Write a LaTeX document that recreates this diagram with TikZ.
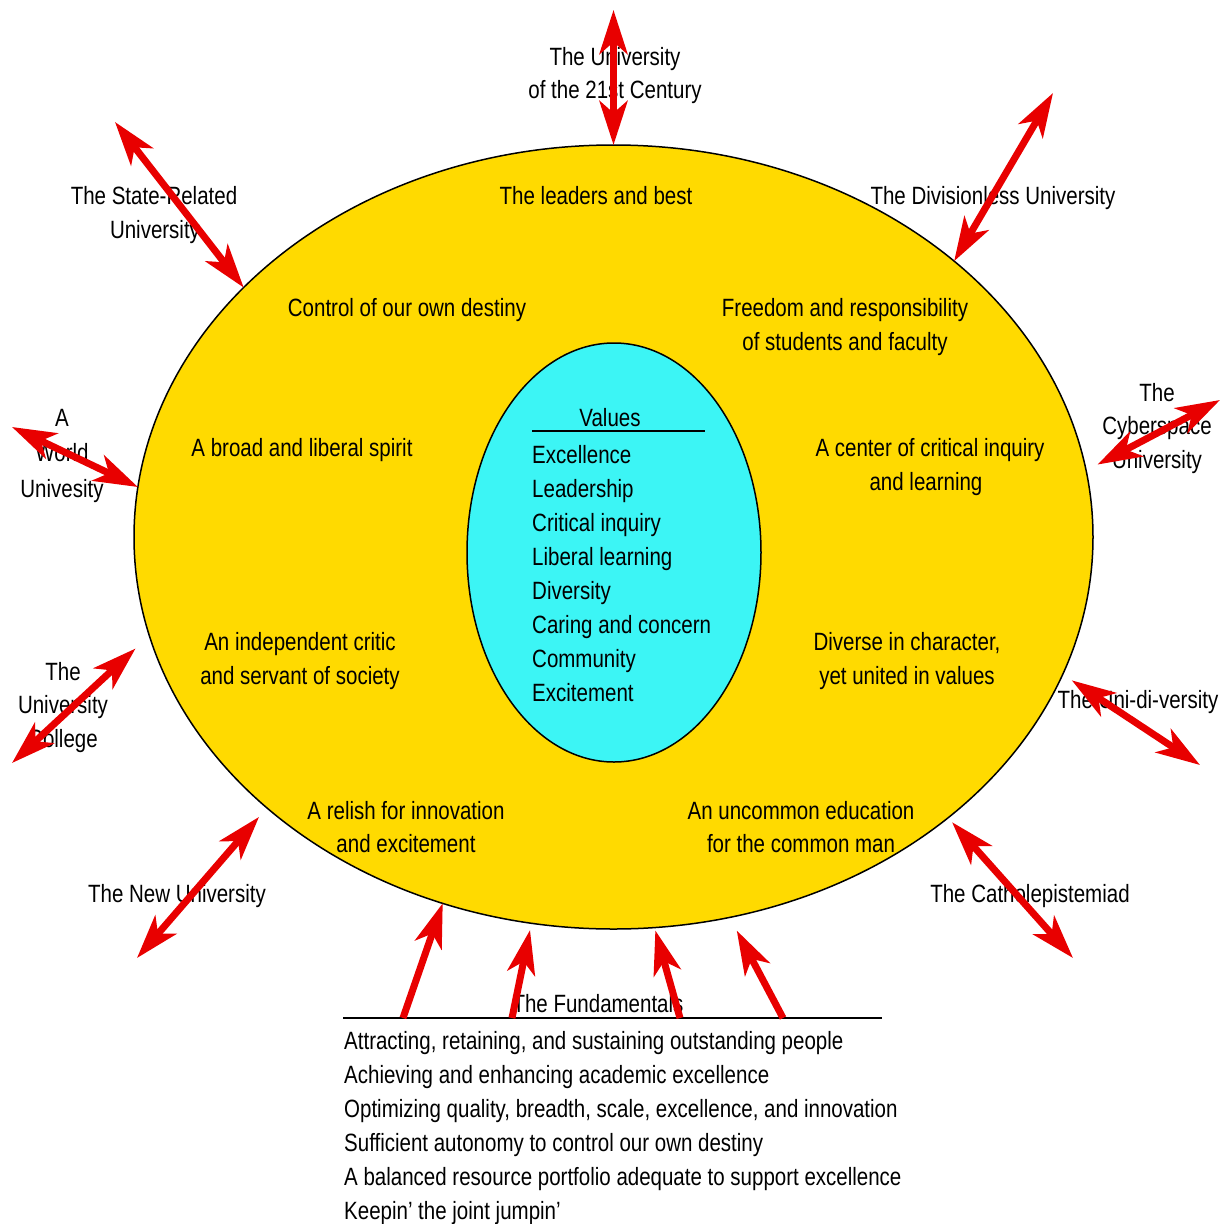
\documentclass[tikz,border=0pt]{standalone}
\usepackage{fontspec}
\setmainfont{Liberation Sans}[FakeStretch=0.82]
\usetikzlibrary{shapes.geometric,arrows.meta}
\definecolor{gold}{RGB}{255,218,0}
\definecolor{aqua}{RGB}{60,245,245}
\definecolor{arrred}{RGB}{232,0,0}
\begin{document}
\begin{tikzpicture}[x=1pt,y=-1pt,
  lbl/.style={font=\fontsize{25}{34}\selectfont, inner sep=0pt, anchor=base},
  lst/.style={lbl, anchor=base west},
  dbl/.style={draw=arrred, line width=7pt, {Stealth[length=44pt,width=28pt,inset=12pt]}-{Stealth[length=44pt,width=28pt,inset=12pt]}},
  sgl/.style={draw=arrred, line width=7pt, -{Stealth[length=44pt,width=28pt,inset=12pt]}},
  hrule/.style={draw=black, line width=1.8pt}]
\useasboundingbox (0,0) rectangle (1222,1224);
\fill[white] (0,0) rectangle (1222,1224);

% ellipses
\node[ellipse, draw, fill=gold, line width=1.5pt, minimum width=959pt, minimum height=784pt, inner sep=0pt, outer sep=0pt] (outer) at (613.5,537) {};
\node[ellipse, draw, fill=aqua, line width=1.5pt, minimum width=294pt, minimum height=419pt, inner sep=0pt, outer sep=0pt] (inner) at (614,552.5) {};

% texts in the outer ring
\node[lbl] (lead) at (596,204) {The leaders and best};
\node[lbl] (ctrl) at (407,316) {Control of our own destiny};
\node[lbl] (free1) at (845,316) {Freedom and responsibility};
\node[lbl] (free2) at (845,350) {of students and faculty};
\node[lbl] (broad) at (302,456) {A broad and liberal spirit};
\node[lbl] (cent1) at (930,456) {A center of critical inquiry};
\node[lbl] (cent2) at (926,490) {and learning};
\node[lbl] (indep1) at (300,650) {An independent critic};
\node[lbl] (indep2) at (300,684) {and servant of society};
\node[lbl] (div1) at (907,650) {Diverse in character,};
\node[lbl] (div2) at (907,684) {yet united in values};
\node[lbl] (rel1) at (406,819) {A relish for innovation};
\node[lbl] (rel2) at (406,852) {and excitement};
\node[lbl] (unc1) at (801,819) {An uncommon education};
\node[lbl] (unc2) at (801,852) {for the common man};

% values
\node[lbl] (vhead) at (610,426) {Values};
\draw[hrule] (532,431) -- (705,431);
\node[lst] (v1) at (532,463) {Excellence};
\node[lst] (v2) at (532,497) {Leadership};
\node[lst] (v3) at (532,531) {Critical inquiry};
\node[lst] (v4) at (532,565) {Liberal learning};
\node[lst] (v5) at (532,599) {Diversity};
\node[lst] (v6) at (532,633) {Caring and concern};
\node[lst] (v7) at (532,667) {Community};
\node[lst] (v8) at (532,701) {Excitement};

% outside labels
\node[lbl] (u21a) at (615,65) {The University};
\node[lbl] (u21b) at (615,98) {of the 21st Century};
\node[lbl] (sra) at (154,204) {The State-Related};
\node[lbl] (srb) at (155,238) {University};
\node[lbl] (dvl) at (993,204) {The Divisionless University};
\node[lbl] (wa) at (62,426) {A};
\node[lbl] (wb) at (62,461) {World};
\node[lbl] (wc) at (62,497) {Univesity};
\node[lbl] (cya) at (1157,401) {The};
\node[lbl] (cyb) at (1157,434) {Cyberspace};
\node[lbl] (cyc) at (1157,468) {University};
\node[lbl] (uca) at (63,680) {The};
\node[lbl] (ucb) at (63,713) {University};
\node[lbl] (ucc) at (63,747) {College};
\node[lbl] (udv) at (1138,708) {The Uni-di-versity};
\node[lbl] (nwu) at (177,902) {The New University};
\node[lbl] (cath) at (1030,902) {The Catholepistemiad};

% fundamentals
\node[lbl] (fhead) at (598,1012) {The Fundamentals};
\draw[hrule] (343,1018) -- (882,1018);
\node[lst] (f1) at (344,1049) {Attracting, retaining, and sustaining outstanding people};
\node[lst] (f2) at (344,1083) {Achieving and enhancing academic excellence};
\node[lst] (f3) at (344,1117) {Optimizing quality, breadth, scale, excellence, and innovation};
\node[lst] (f4) at (344,1151) {Sufficient autonomy to control our own destiny};
\node[lst] (f5) at (344,1185) {A balanced resource portfolio adequate to support excellence};
\node[lst] (f6) at (344,1219) {Keepin' the joint jumpin'};

% double arrows
\coordinate (q21) at (613.5,10);
\coordinate (qstate) at (115,122);
\coordinate (qdiv) at (1053,93);
\coordinate (qworld) at (12,427);
\coordinate (qcyber) at (1220,400);
\coordinate (qcoll) at (12,763);
\coordinate (qunidi) at (1200,765);
\coordinate (qnew) at (137,958);
\coordinate (qcath) at (1073,958);
\draw[dbl] (outer.north) -- (q21);
\draw[dbl] (outer.146.3) -- (qstate);
\draw[dbl] (outer.39.5) -- (qdiv);
\draw[dbl] (outer.174) -- (qworld);
\draw[dbl, shorten <=13pt] (outer.8.8) -- (qcyber);
\draw[dbl, shorten <=19pt] (outer.192.4) -- (qcoll);
\draw[dbl, shorten <=11pt] (outer.343.4) -- (qunidi);
\draw[dbl, shorten <=12pt] (outer.218.6) -- (qnew);
\draw[dbl, shorten <=6pt] (outer.320) -- (qcath);

% fundamentals arrows
\coordinate (fa) at (403,1018);
\coordinate (fb) at (512,1018);
\coordinate (fc) at (680,1018);
\coordinate (fd) at (783,1018);
\draw[sgl] (fa) -- (outer.245.8);
\draw[sgl, shorten >=7pt] (fb) -- (outer.258);
\draw[sgl, shorten >=3pt] (fc) -- (outer.276.4);
\draw[sgl, shorten >=15pt] (fd) -- (outer.287.85);
\end{tikzpicture}
\end{document}
